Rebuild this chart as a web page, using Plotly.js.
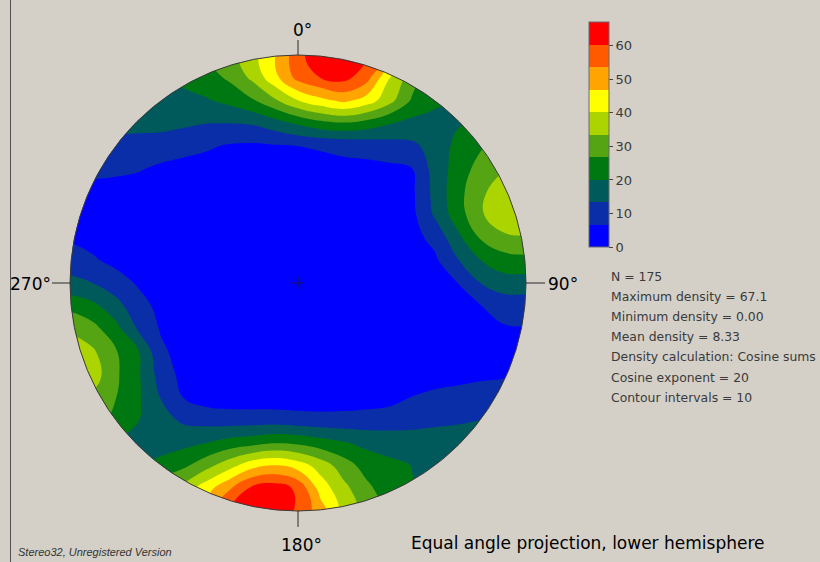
<!DOCTYPE html>
<html>
<head>
<meta charset="utf-8">
<script src="https://cdn.plot.ly/plotly-3.0.1.min.js"></script>
<style>
html,body{margin:0;padding:0;background:#d4d0c8;}
#chart{width:820px;height:562px;}
</style>
</head>
<body>
<div id="chart"></div>
<script>
// ---- data: density grid read from the stereonet (u = east, v = north, unit circle = primitive) ----
const gridU = [-1.1,-1.0,-0.9,-0.8,-0.7,-0.6,-0.5,-0.4,-0.3,-0.2,-0.1,0,0.1,0.2,0.3,0.4,0.5,0.6,0.7,0.8,0.9,1.0,1.1];
const gridV = [1.1,1.0,0.9,0.8,0.7,0.6,0.5,0.4,0.3,0.2,0.1,0,-0.1,-0.2,-0.3,-0.4,-0.5,-0.6,-0.7,-0.8,-0.9,-1.0,-1.1];
const density = [
  [15,15,16,17,18,20,23,26,29,35,44,54,62,63,58,48,37,28,22,19,18,17,17],
  [15,16,16,17,19,21,24,28,31,38,47,58,66,67,62,52,40,30,24,20,18,18,18],
  [15,15.5,16,16.5,18,20,22,24,28,35,45,56,60.5,62.5,56.5,40.5,30,22,18,17,17,17,17],
  [15,15,15.5,16,16.5,17,18,19.5,22,26,32.5,40,45,48.5,44,36,26,22,19,18,17,17,17],
  [13,13,13.5,14.5,15,15.5,14.5,13.5,13.4,14,17.2,21,24.5,26,24,20.5,18,17,19.5,21,22,22,22],
  [12,12,12,12,11.3,10.1,8.9,7.5,6,5.5,6,6.7,7.2,8,9,10.5,12,16,22,26,30,32,32],
  [9,9,8.6,8,7.2,5.5,4.5,4,3.5,3.5,3.8,4.5,5,5.2,5,5.3,6.5,16,23,29.5,33,35,34],
  [5,4.8,4.5,4.2,3.8,3.5,3,2.5,2.5,2.5,2.5,2.8,3,3.2,3.5,4,5.5,15.5,24.4,32.2,37,37,35],
  [4.5,4.2,4,3.6,3.3,3,2.5,2,2,2,2,2,2.2,2.5,2.8,3.2,5,14.4,23.6,32.5,39,39,37],
  [6,5.5,4.5,3.8,3.2,2.8,2.3,2,1.8,1.8,1.8,1.8,2,2.2,2.5,3,4.5,8.7,18.4,27.5,32,33,32],
  [11,10.5,7.5,5,3.5,2.8,2.3,2,1.7,1.5,1.5,1.5,1.7,2,2.3,2.8,4,5.5,13,20,24,25,25],
  [16,15,13.4,9.5,6,4,3,2.3,1.8,1.5,1.3,1.3,1.5,1.8,2.2,2.7,3.5,4.5,6.7,13.4,17,17,17],
  [26,25,21.7,16,8.9,5,3.5,2.5,2,1.6,1.3,1.3,1.4,1.7,2,2.5,3,3.5,5.5,6.5,9.4,10,10.5],
  [32,32,29,22.3,12.5,6,4,3,2.3,1.8,1.5,1.5,1.5,1.8,2,2.3,2.8,3.3,4,5,6,6.5,7],
  [38,38,34.5,27.5,20.5,7.9,4,3,2.5,2,1.8,1.7,1.7,1.8,2,2.3,2.8,3.2,3.5,4,5,5.5,6],
  [39,39,37,28,21,10.4,4.5,3.3,2.8,2.3,2,2,2,2,2.2,2.5,3,3.5,4.2,5.5,6,7,7.5],
  [33,33,32,27,21,13,6.3,3.5,3,2.8,2.8,2.8,2.8,3,3.3,4,6.8,8.4,9.3,9.4,9.5,10,10],
  [29,29,28,26,20.3,15.9,12.2,10.8,10,10,10,9.3,8.9,9,9.5,10.5,11.5,12.4,13,13.4,14,14,14],
  [22,22,21,20,18.5,16,18.2,20,22.7,24.3,26.3,25.3,22.9,20.6,18.3,16.7,15.9,15.5,15,15,15,15,15],
  [20,20,20,20,20,23,25.5,31.3,37.7,44.5,47,43.7,37.2,30.1,24.1,22,20,18.5,17,16,16,16,16],
  [20,20,20,22,25,30,36,44.3,53,62,64,59,44,35.5,28.5,23,20.5,18,16,16,16,16,16],
  [20,20,20,22,26,32,40,50,60,66,66,59,50,38,31,25,21,18,16,16,16,16,16],
  [19,19,19,21,24,29,36,45,54,60,60,54,45,35,28,23,20,17,16,16,16,16,16]
];
const minDensity = 0;
const maxDensity = 67.1;
const contourCount = 10;
const bandColors = ['#0000ff','#0a2ea8','#005a5c','#007812','#55a414','#acd400','#ffff00','#ffa400','#ff5a00','#ff0000'];
const colorbarTicks = [0,10,20,30,40,50,60];
const directionLabels = ['0°','90°','180°','270°'];
const statsLines = ['N = 175','Maximum density = 67.1','Minimum density = 0.00','Mean density = 8.33',
  'Density calculation: Cosine sums','Cosine exponent = 20','Contour intervals = 10'];
const footerText = 'Stereo32, Unregistered Version';
const projectionText = 'Equal angle projection, lower hemisphere';

// ---- layout geometry (pixels) ----
const W = 820, H = 562, CX = 298, CY = 283, R = 228;
const BG = '#d4d0c8';
const ux = px => (px - CX) / R;
const vy = py => (CY - py) / R;
const pX = px => px / W;
const pY = py => 1 - py / H;

const step = (maxDensity - minDensity) / contourCount;
const stepped = [];
bandColors.forEach((c, i) => { stepped.push([i / contourCount, c]); stepped.push([(i + 1) / contourCount, c]); });

const contourTrace = {
  type: 'contour',
  x: gridU,
  y: gridV.slice().reverse(),
  z: density.slice().reverse(),
  autocontour: false,
  contours: { start: minDensity + step, end: minDensity + step * (contourCount - 1), size: step, coloring: 'fill', showlines: false },
  line: { width: 0, smoothing: 1.2 },
  colorscale: stepped,
  zmin: minDensity, zmax: maxDensity,
  showscale: false,
  hoverinfo: 'skip'
};

const scaleTrace = {
  type: 'scatter', mode: 'markers', x: [null], y: [null], hoverinfo: 'skip', showlegend: false,
  marker: {
    color: [minDensity], cmin: minDensity, cmax: maxDensity, colorscale: stepped, showscale: true,
    colorbar: {
      x: pX(589), xanchor: 'left', y: pY(22), yanchor: 'top',
      len: 225, lenmode: 'pixels', thickness: 20, thicknessmode: 'pixels',
      xpad: 0, ypad: 0, outlinecolor: '#6a6a6a', outlinewidth: 1, borderwidth: 0,
      tickmode: 'array', tickvals: colorbarTicks, ticktext: colorbarTicks.map(String),
      ticks: 'outside', ticklen: 4, tickwidth: 1, tickcolor: '#444',
      tickfont: { family: 'DejaVu Sans', size: 13, color: '#3a3a3a' }
    }
  }
};

const k = 0.5523;
const maskPath = `M -5 -5 L -5 5 L 5 5 L 5 -5 Z M 1 0 C 1 ${k} ${k} 1 0 1 C ${-k} 1 -1 ${k} -1 0 C -1 ${-k} ${-k} -1 0 -1 C ${k} -1 1 ${-k} 1 0 Z`;

const lineCol = '#2a2a2a';
const shapes = [
  { type: 'path', xref: 'x', yref: 'y', path: maskPath, fillcolor: BG, fillrule: 'evenodd', line: { width: 0 }, layer: 'above' },
  { type: 'circle', xref: 'x', yref: 'y', x0: -1, x1: 1, y0: -1, y1: 1, line: { color: '#3a3a3a', width: 1 }, layer: 'above' },
  { type: 'line', xref: 'x', yref: 'y', x0: 0, x1: 0, y0: vy(40), y1: vy(55), line: { color: lineCol, width: 1 } },
  { type: 'line', xref: 'x', yref: 'y', x0: 0, x1: 0, y0: vy(511), y1: vy(527), line: { color: lineCol, width: 1 } },
  { type: 'line', xref: 'x', yref: 'y', x0: ux(526), x1: ux(545), y0: 0, y1: 0, line: { color: lineCol, width: 1 } },
  { type: 'line', xref: 'x', yref: 'y', x0: ux(52), x1: ux(70), y0: 0, y1: 0, line: { color: lineCol, width: 1 } },
  { type: 'line', xref: 'x', yref: 'y', x0: ux(292), x1: ux(304), y0: 0, y1: 0, line: { color: 'rgba(20,20,90,0.75)', width: 1.5 } },
  { type: 'line', xref: 'x', yref: 'y', x0: 0, x1: 0, y0: vy(277), y1: vy(289), line: { color: 'rgba(20,20,90,0.75)', width: 1.5 } },
  { type: 'line', xref: 'paper', yref: 'paper', x0: pX(10.5), x1: pX(10.5), y0: 0, y1: 1, line: { color: '#505050', width: 1 } }
];

const labFont = { family: 'DejaVu Sans', size: 17, color: '#000' };
const ann = (text, x, y, xa, font) => ({ text, x: pX(x), y: pY(y), xref: 'paper', yref: 'paper', xanchor: xa, yanchor: 'middle', showarrow: false, borderpad: 0, font });
const annotations = [
  ann(directionLabels[0], 302, 30, 'center', labFont),
  ann(directionLabels[1], 547, 284, 'left', labFont),
  ann(directionLabels[2], 301, 545, 'center', labFont),
  ann(directionLabels[3], 52, 284, 'right', labFont),
  ann(projectionText, 410, 543, 'left', labFont),
  ann(footerText, 17, 552, 'left', { family: 'Liberation Sans', size: 11, color: '#333', style: 'italic' })
];
statsLines.forEach((t, i) => annotations.push(ann(t, 610, 276.5 + i * 20.1, 'left', { family: 'DejaVu Sans', size: 12.4, color: '#3a3a3a' })));

const layout = {
  width: W, height: H,
  margin: { l: 0, r: 0, t: 0, b: 0, pad: 0 },
  paper_bgcolor: BG, plot_bgcolor: BG,
  xaxis: { range: [ux(0), ux(W)], visible: false, fixedrange: true },
  yaxis: { range: [vy(H), vy(0)], visible: false, fixedrange: true },
  showlegend: false,
  shapes, annotations
};

Plotly.newPlot('chart', [contourTrace, scaleTrace], layout, { staticPlot: true, displayModeBar: false });
</script>
</body>
</html>
